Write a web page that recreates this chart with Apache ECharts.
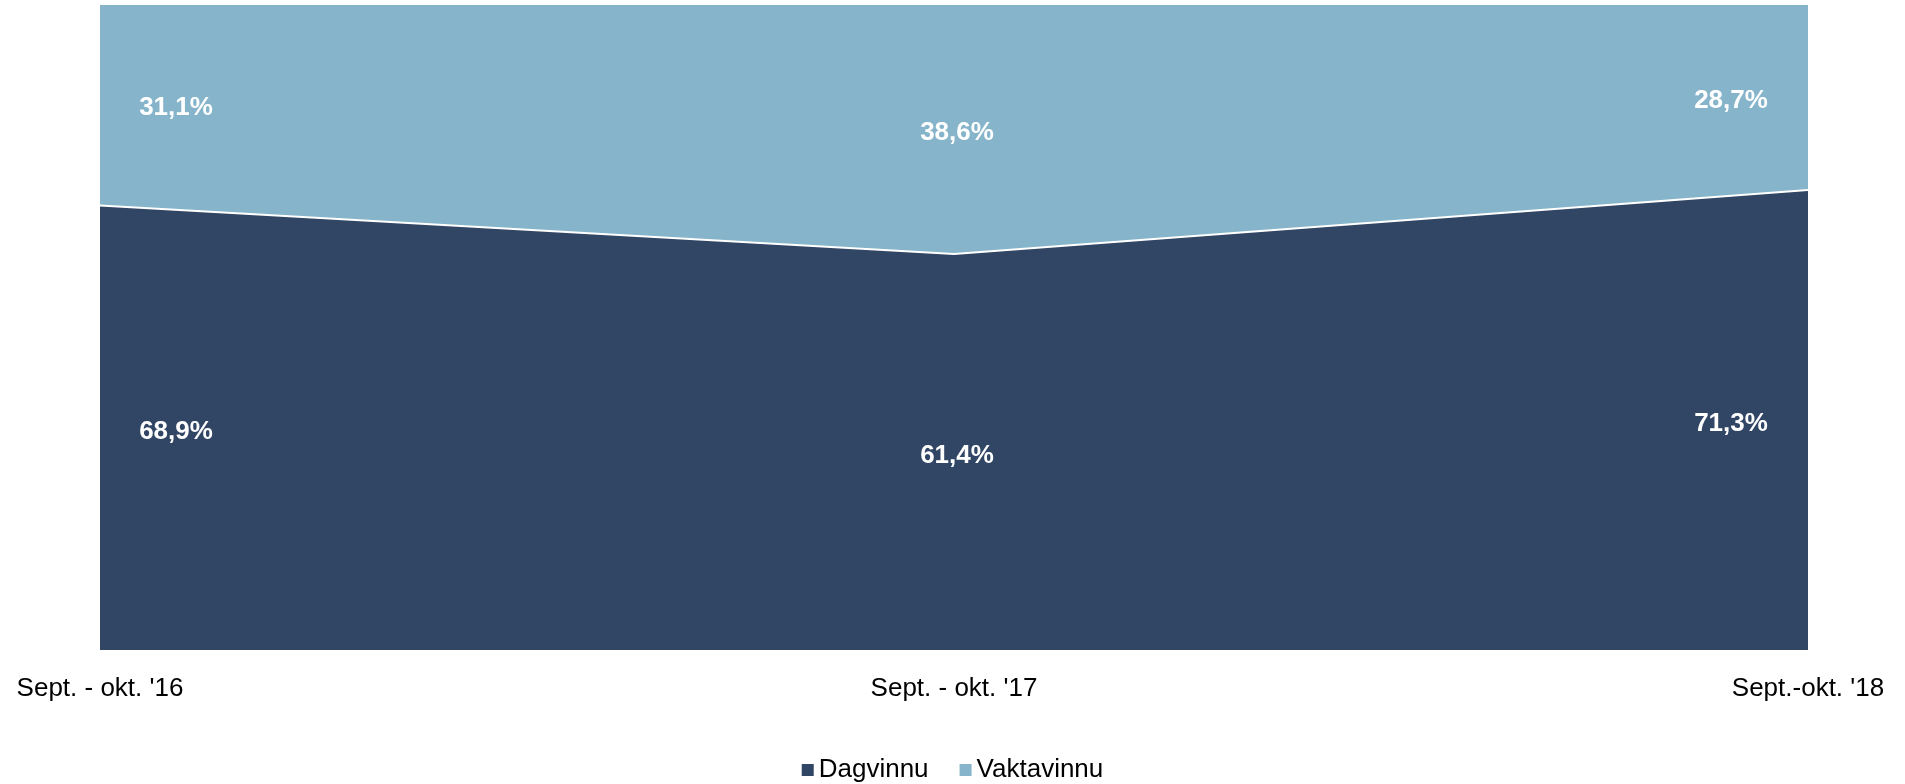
<!DOCTYPE html>
<html>
<head>
<meta charset="utf-8">
<style>
  html, body { margin: 0; padding: 0; background: #ffffff; }
  #chart { width: 1905px; height: 784px; }
</style>
<script src="https://cdn.jsdelivr.net/npm/echarts@6/dist/echarts.min.js"></script>
</head>
<body>
<div id="chart"></div>
<script>
const categories = ["Sept. - okt. '16", "Sept. - okt. '17", "Sept.-okt. '18"];
const dagvinnu = [68.9, 61.4, 71.3];
const vaktavinnu = [31.1, 38.6, 28.7];
const seriesNames = ["Dagvinnu", "Vaktavinnu"];

const colorDag = '#314565';
const colorVakt = '#86B5CB';
const labelXOffsets = [76, 3, -77];
const FONT = '"Liberation Sans", Arial, sans-serif';

function fmt(v) { return v.toFixed(1).replace('.', ',') + '%'; }

const dagLabelData = dagvinnu.map((v, i) => ({
  value: [i, v / 2],
  raw: v,
  label: { offset: [labelXOffsets[i], 4] }
}));
const vaktLabelData = vaktavinnu.map((v, i) => ({
  value: [i, dagvinnu[i] + v / 2],
  raw: v,
  label: { offset: [labelXOffsets[i], 3] }
}));

const labelStyle = {
  show: true,
  position: 'inside',
  color: '#ffffff',
  opacity: 1,
  fontFamily: FONT,
  fontWeight: 'bold',
  fontSize: 26,
  formatter: p => fmt(p.data.raw)
};

const chart = echarts.init(document.getElementById('chart'), null, { renderer: 'canvas' });
chart.setOption({
  animation: false,
  backgroundColor: '#ffffff',
  grid: { left: 100, right: 97, top: 5, bottom: 134, containLabel: false },
  legend: {
    data: seriesNames,
    left: 'center',
    top: 752,
    icon: 'rect',
    itemWidth: 12,
    itemHeight: 12,
    itemGap: 31,
    textStyle: { fontFamily: FONT, fontSize: 26, color: '#000000' }
  },
  xAxis: {
    type: 'category',
    data: categories,
    boundaryGap: false,
    axisLine: { show: false },
    axisTick: { show: false },
    splitLine: { show: false },
    axisLabel: {
      interval: 0,
      margin: 26,
      color: '#000000',
      fontFamily: FONT,
      fontSize: 26
    }
  },
  yAxis: {
    type: 'value',
    min: 0,
    max: 100,
    show: false,
    splitLine: { show: false }
  },
  series: [
    {
      name: seriesNames[0],
      type: 'line',
      stack: 'total',
      data: dagvinnu,
      showSymbol: false,
      symbol: 'none',
      z: 3,
      itemStyle: { color: colorDag },
      lineStyle: { color: '#ffffff', width: 2 },
      areaStyle: { color: colorDag, opacity: 1 }
    },
    {
      name: seriesNames[1],
      type: 'line',
      stack: 'total',
      data: vaktavinnu,
      showSymbol: false,
      symbol: 'none',
      z: 2,
      itemStyle: { color: colorVakt },
      lineStyle: { width: 0 },
      areaStyle: { color: colorVakt, opacity: 1 }
    },
    {
      name: 'labelsDag',
      type: 'scatter',
      symbolSize: 0,
      z: 5,
      itemStyle: { opacity: 1 },
      data: dagLabelData,
      label: labelStyle,
      silent: true
    },
    {
      name: 'labelsVakt',
      type: 'scatter',
      symbolSize: 0,
      z: 5,
      itemStyle: { opacity: 1 },
      data: vaktLabelData,
      label: labelStyle,
      silent: true
    }
  ]
});
</script>
</body>
</html>
